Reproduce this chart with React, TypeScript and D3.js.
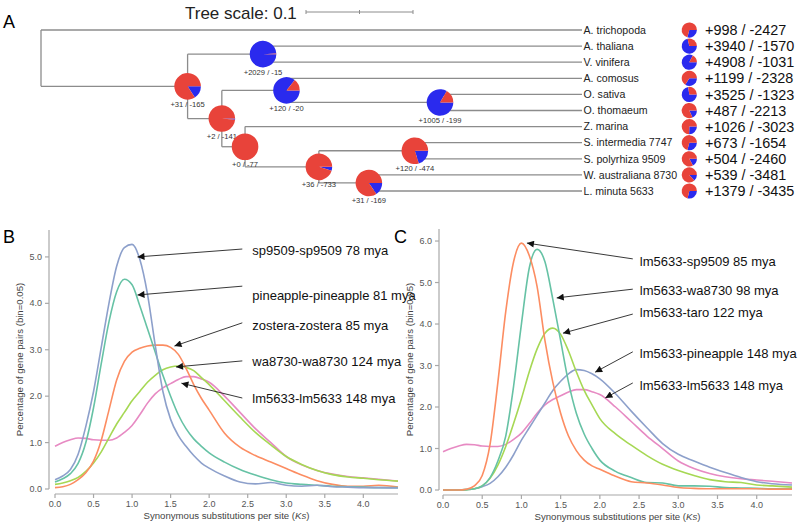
import React from 'react';
import * as d3 from 'd3';

const WIDTH = 800;
const HEIGHT = 527;
const FONT = '"Liberation Sans", Arial, Helvetica, sans-serif';
const RED = '#e8433a';
const BLUE = '#2a2aee';
const BRANCH = '#8c8c8c';

// ---- panel A: tree tips, top to bottom
const species = [
  'A. trichopoda', 'A. thaliana', 'V. vinifera', 'A. comosus', 'O. sativa', 'O. thomaeum',
  'Z. marina', 'S. intermedia 7747', 'S. polyrhiza 9509', 'W. australiana 8730', 'L. minuta 5633',
];
const speciesParent = ['root', 'n2', 'n2', 'n4', 'n5', 'n5', 'n6', 'n8', 'n8', 'n9', 'n9'];
const speciesGain = [998, 3940, 4908, 1199, 3525, 487, 1026, 673, 504, 539, 1379];
const speciesLoss = [2427, 1570, 1031, 2328, 1323, 2213, 3023, 1654, 2460, 3481, 3435];

// internal nodes
const nodeIds = ['n1', 'n2', 'n3', 'n4', 'n5', 'n6', 'n7', 'n8', 'n9'];
const nodeParent = ['root', 'n1', 'n1', 'n3', 'n4', 'n3', 'n6', 'n7', 'n7'];
const nodeBranch = [0.137, 0.0705, 0.032, 0.0604, 0.1435, 0.0217, 0.069, 0.0897, 0.0467];
const nodeGain = [31, 2029, 2, 120, 1005, 0, 36, 120, 31];
const nodeLoss = [165, 15, 141, 20, 199, 77, 733, 474, 169];
const tipDepth = 0.5056;

// ---- panels B and C: Ks distributions
const ksGrid = [0, 0.1, 0.2, 0.3, 0.4, 0.5, 0.6, 0.7, 0.8, 0.9, 1.0, 1.1, 1.2, 1.3, 1.4, 1.5, 1.6, 1.7, 1.8, 1.9, 2.0,
  2.2, 2.4, 2.6, 2.8, 3.0, 3.2, 3.4, 3.6, 3.8, 4.0, 4.2, 4.45];

const sp9509Self = [0.2, 0.28, 0.42, 0.75, 1.35, 2.1, 3.05, 4.0, 4.8, 5.2, 5.27, 4.95, 4.2, 3.1, 2.1, 1.5, 1.15, 0.92, 0.72, 0.56, 0.45,
  0.28, 0.15, 0.11, 0.14, 0.08, 0.06, 0.08, 0.05, 0.04, 0.03, 0.03, 0.02];
const pineappleSelf = [0.15, 0.22, 0.33, 0.55, 1.0, 1.75, 2.7, 3.6, 4.25, 4.52, 4.4, 3.95, 3.45, 2.95, 2.45, 2.0, 1.6, 1.3, 1.08, 0.92, 0.78,
  0.58, 0.42, 0.3, 0.2, 0.13, 0.1, 0.08, 0.06, 0.05, 0.04, 0.03, 0.03];
const zosteraSelf = [0.03, 0.05, 0.1, 0.2, 0.35, 0.6, 1.05, 1.7, 2.35, 2.75, 2.95, 3.03, 3.08, 3.1, 3.1, 3.05, 2.9, 2.6, 2.25, 1.95, 1.7,
  1.2, 0.9, 0.72, 0.58, 0.44, 0.3, 0.18, 0.1, 0.06, 0.06, 0.08, 0.04];
const wa8730Self = [0.1, 0.13, 0.18, 0.25, 0.38, 0.56, 0.8, 1.1, 1.4, 1.65, 1.9, 2.1, 2.3, 2.45, 2.57, 2.63, 2.65, 2.62, 2.55, 2.4, 2.25,
  1.9, 1.55, 1.22, 0.95, 0.7, 0.53, 0.4, 0.31, 0.26, 0.23, 0.2, 0.17];
const lm5633Self = [0.92, 1.0, 1.06, 1.1, 1.09, 1.06, 1.05, 1.05, 1.1, 1.22, 1.37, 1.6, 1.85, 2.05, 2.18, 2.27, 2.36, 2.42, 2.42, 2.37, 2.3,
  2.0, 1.65, 1.3, 1.0, 0.7, 0.52, 0.4, 0.32, 0.27, 0.24, 0.21, 0.17];

const lm5633Sp9509 = [0, 0, 0, 0.02, 0.1, 0.35, 1.1, 2.6, 4.3, 5.5, 5.95, 5.65, 4.9, 3.6, 2.6, 1.85, 1.3, 0.95, 0.72, 0.58, 0.5,
  0.33, 0.2, 0.17, 0.12, 0.06, 0.04, 0.03, 0.03, 0.03, 0.03, 0.02, 0.02];
const lm5633Wa8730 = [0, 0, 0, 0.01, 0.03, 0.1, 0.3, 0.7, 1.3, 2.5, 4.0, 5.35, 5.8, 5.5, 4.6, 3.6, 2.6, 1.85, 1.35, 1.0, 0.72,
  0.45, 0.3, 0.18, 0.17, 0.1, 0.1, 0.09, 0.06, 0.05, 0.04, 0.03, 0.03];
const lm5633Taro = [0, 0, 0, 0.01, 0.03, 0.1, 0.28, 0.6, 1.05, 1.6, 2.2, 2.85, 3.4, 3.78, 3.9, 3.75, 3.35, 2.85, 2.4, 2.05, 1.72,
  1.35, 1.08, 0.83, 0.62, 0.47, 0.35, 0.25, 0.2, 0.18, 0.12, 0.1, 0.07];
const lm5633Pineapple = [0, 0, 0, 0.01, 0.03, 0.08, 0.16, 0.32, 0.55, 0.85, 1.2, 1.5, 1.8, 2.1, 2.4, 2.62, 2.8, 2.9, 2.88, 2.8, 2.68,
  2.32, 1.9, 1.5, 1.12, 0.86, 0.7, 0.55, 0.42, 0.3, 0.2, 0.15, 0.12];

const labelsB = ['sp9509-sp9509 78 mya', 'pineapple-pineapple 81 mya', 'zostera-zostera 85 mya', 'wa8730-wa8730 124 mya', 'lm5633-lm5633 148 mya'];
const labelYB = [5.15, 4.16, 3.53, 2.74, 1.96];
const tailYB = [5.17, 4.37, 3.58, 2.76, 1.96];
const tipB: [number, number][] = [[1.07, 5.0], [1.07, 4.18], [1.55, 3.08], [1.57, 2.63], [1.64, 2.28]];

const labelsC = ['lm5633-sp9509 85 mya', 'lm5633-wa8730 98 mya', 'lm5633-taro 122 mya', 'lm5633-pineapple 148 mya', 'lm5633-lm5633 148 mya'];
const labelYC = [5.52, 4.8, 4.27, 3.3, 2.53];
const tailYC = [5.57, 4.84, 4.24, 3.33, 2.58];
const tipC: [number, number][] = [[1.07, 5.95], [1.45, 4.63], [1.53, 3.78], [1.94, 2.84], [2.07, 2.22]];

const SET2 = { green: '#66c2a5', orange: '#fc8d62', blue: '#8da0cb', pink: '#e78ac3', lime: '#a6d854' };

const seriesB = [
  { values: lm5633Self, color: SET2.pink },
  { values: wa8730Self, color: SET2.lime },
  { values: zosteraSelf, color: SET2.orange },
  { values: pineappleSelf, color: SET2.green },
  { values: sp9509Self, color: SET2.blue },
];
const seriesC = [
  { values: lm5633Self, color: SET2.pink },
  { values: lm5633Pineapple, color: SET2.blue },
  { values: lm5633Taro, color: SET2.lime },
  { values: lm5633Wa8730, color: SET2.green },
  { values: lm5633Sp9509, color: SET2.orange },
];

const pie = d3.pie<number>().sort(null).startAngle(Math.PI / 2).endAngle(Math.PI / 2 + 2 * Math.PI);

function Pie({ x, y, r, gain, loss }) {
  const arc = d3.arc<d3.PieArcDatum<number>>().innerRadius(0).outerRadius(r);
  return (
    <g transform={`translate(${x},${y})`}>
      {pie([gain, loss]).map((a, i) => (
        <path key={i} d={arc(a) || ''} fill={i === 0 ? BLUE : RED} />
      ))}
    </g>
  );
}

function Tree() {
  const rows = [
    { id: 'root', parentId: null, bl: 0, gain: 0, loss: 0, leaf: false },
    ...nodeIds.map((id, i) => ({ id, parentId: nodeParent[i], bl: nodeBranch[i], gain: nodeGain[i], loss: nodeLoss[i], leaf: false })),
    ...species.map((id, i) => ({ id, parentId: speciesParent[i], bl: 0, gain: speciesGain[i], loss: speciesLoss[i], leaf: true })),
  ];
  const root: any = d3.stratify<any>().id(d => d.id).parentId(d => d.parentId)(rows);

  const xTree = d3.scaleLinear().domain([0, 0.1]).range([41, 148]);
  const yTip = d3.scalePoint<string>().domain(species).range([30, 191]);

  root.eachBefore((n: any) => {
    n.dist = !n.parent ? 0 : n.data.leaf ? tipDepth : n.parent.dist + n.data.bl;
    n.px = xTree(n.dist);
  });
  root.eachAfter((n: any) => {
    if (n.children) {
      const ys = n.children.map((c: any) => c.py);
      n.py = (d3.min(ys) + d3.max(ys)) / 2;
    } else {
      n.py = yTip(n.data.id);
    }
  });
  const nodes = root.descendants();
  const barX = 306;

  return (
    <g fontFamily={FONT}>
      <text x={3} y={28} fontSize={18}>A</text>
      <text x={185} y={18.5} fontSize={17} fill="#222">Tree scale: 0.1</text>
      <g stroke={BRANCH} strokeWidth={1}>
        <line x1={barX} x2={barX + xTree(0.1) - xTree(0)} y1={12} y2={12} />
        {[0, 0.05, 0.1].map(t => (
          <line key={t} x1={barX + xTree(t) - xTree(0)} x2={barX + xTree(t) - xTree(0)} y1={10} y2={14} />
        ))}
      </g>
      <g stroke={BRANCH} strokeWidth={1.3} fill="none">
        {nodes.filter((n: any) => n.parent).map((n: any) => (
          <line key={'h' + n.data.id} x1={n.parent.px} x2={n.px} y1={n.py} y2={n.py} />
        ))}
        {nodes.filter((n: any) => n.children).map((n: any) => {
          const ys = n.children.map((c: any) => c.py);
          return <line key={'v' + n.data.id} x1={n.px} x2={n.px} y1={d3.min(ys)} y2={d3.max(ys)} />;
        })}
      </g>
      {nodes.filter((n: any) => n.children && n.parent).map((n: any) => (
        <g key={'p' + n.data.id}>
          <Pie x={n.px} y={n.py} r={13.3} gain={n.data.gain} loss={n.data.loss} />
          <text x={n.px} y={n.py + 20.5} fontSize={7.6} textAnchor="middle" fill="#333">
            {`+${n.data.gain} / -${n.data.loss}`}
          </text>
        </g>
      ))}
      {nodes.filter((n: any) => !n.children).map((n: any) => (
        <g key={'l' + n.data.id}>
          <text x={n.px + 1.5} y={n.py} dy="0.35em" fontSize={10.6} fill="#222">{n.data.id}</text>
          <Pie x={689.3} y={n.py} r={7.6} gain={n.data.gain} loss={n.data.loss} />
          <text x={705} y={n.py} dy="0.36em" fontSize={14.4} fill="#111">{`+${n.data.gain} / -${n.data.loss}`}</text>
        </g>
      ))}
    </g>
  );
}

function KsPanel({ letter, letterX, x0, x1, yBase, yTop, yMax, axisX, axisY, titleX, series, labels, labelY, tailY, tips, labelKs, tailKs }) {
  const x = d3.scaleLinear().domain([0, 4.45]).range([x0, x1]);
  const y = d3.scaleLinear().domain([0, yMax]).range([yBase, yTop]);
  const line = d3.line<number>().x((_, i) => x(ksGrid[i])).y(d => y(d)).curve(d3.curveMonotoneX);
  const fmt = d3.format('.1f');
  const axisColor = '#a8a8a8';
  return (
    <g fontFamily={FONT}>
      <text x={letterX} y={243} fontSize={18}>{letter}</text>
      <g stroke={axisColor} strokeWidth={1.2}>
        <line x1={axisX} x2={axisX} y1={yTop} y2={yBase} />
        <line x1={x0} x2={x1} y1={axisY} y2={axisY} />
        {y.ticks(6).map(t => <line key={'yt' + t} x1={axisX - 4} x2={axisX} y1={y(t)} y2={y(t)} />)}
        {x.ticks(10).map(t => <line key={'xt' + t} x1={x(t)} x2={x(t)} y1={axisY} y2={axisY + 4} />)}
      </g>
      <g fontSize={9} fill="#555">
        {y.ticks(6).map(t => (
          <text key={'yl' + t} x={axisX - 7} y={y(t)} dy="0.35em" textAnchor="end">{fmt(t)}</text>
        ))}
        {x.ticks(10).map(t => (
          <text key={'xl' + t} x={x(t)} y={axisY + 13} textAnchor="middle">{fmt(t)}</text>
        ))}
      </g>
      <text x={(x0 + x1) / 2} y={axisY + 25} fontSize={9.6} fill="#444" textAnchor="middle">
        Synonymous substitutions per site (<tspan fontStyle="italic">Ks</tspan>)
      </text>
      <text transform={`translate(${titleX},${(yTop + yBase) / 2}) rotate(-90)`} fontSize={9.6} fill="#444" textAnchor="middle">
        Percentage of gene pairs (bin=0.05)
      </text>
      <g fill="none" strokeWidth={1.6}>
        {series.map((s, i) => <path key={i} d={line(s.values) || ''} stroke={s.color} />)}
      </g>
      {labels.map((lab, i) => (
        <g key={lab}>
          <line x1={x(tailKs)} y1={y(tailY[i])} x2={x(tips[i][0])} y2={y(tips[i][1])} stroke="#222" strokeWidth={0.9} markerEnd="url(#arrowhead)" />
          <text x={x(labelKs)} y={y(labelY[i])} dy="0.35em" fontSize={13} fill="#111">{lab}</text>
        </g>
      ))}
    </g>
  );
}

export default function App() {
  return (
    <svg width={WIDTH} height={HEIGHT} viewBox={`0 0 ${WIDTH} ${HEIGHT}`}
      style={{ position: 'absolute', left: 0, top: 0, background: '#fff' }}>
      <defs>
        <marker id="arrowhead" viewBox="0 0 10 10" refX={10} refY={5} markerWidth={8} markerHeight={7}
          markerUnits="userSpaceOnUse" orient="auto">
          <path d="M0,0 L10,5 L0,10 z" fill="#111" />
        </marker>
      </defs>
      <rect width={WIDTH} height={HEIGHT} fill="#fff" />
      <Tree />
      <KsPanel letter="B" letterX={3} x0={55} x1={398} yBase={489} yTop={230} yMax={5.58} axisX={49} axisY={494} titleX={23}
        series={seriesB} labels={labelsB} labelY={labelYB} tailY={tailYB} tips={tipB} labelKs={2.56} tailKs={2.43} />
      <KsPanel letter="C" letterX={394} x0={443} x1={792} yBase={490} yTop={229} yMax={6.29} axisX={439} axisY={495} titleX={413}
        series={seriesC} labels={labelsC} labelY={labelYC} tailY={tailYC} tips={tipC} labelKs={2.51} tailKs={2.42} />
    </svg>
  );
}
